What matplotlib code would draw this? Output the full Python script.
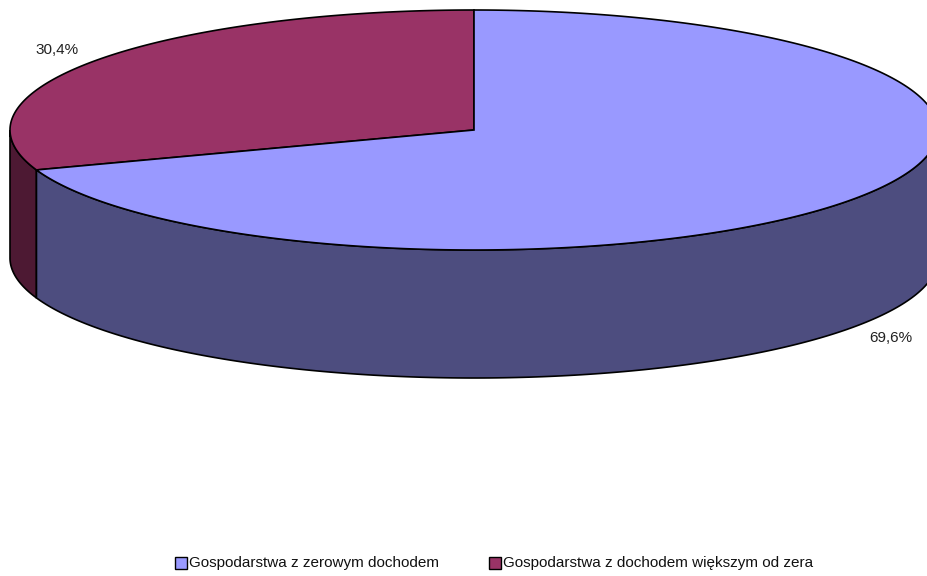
import numpy as np
import matplotlib.pyplot as plt
from matplotlib.patches import Polygon, Rectangle

labels = ["Gospodarstwa z zerowym dochodem", "Gospodarstwa z dochodem większym od zera"]
shares = [69.6, 30.4]
pct_text = ["69,6%", "30,4%"]
top_colors = ["#9999FF", "#993366"]
side_colors = ["#4D4D7F", "#4D1933"]

plt.rcParams['font.family'] = ['Liberation Sans Narrow', 'Liberation Sans', 'DejaVu Sans']

fig = plt.figure(figsize=(9.28, 5.76), dpi=100)
ax = fig.add_axes([0, 0, 1, 1])
ax.set_xlim(0, 928)
ax.set_ylim(576, 0)
ax.axis('off')

# geometria elipsy (piksele)
cx, cy = 474, 130
a, b = 464, 120
depth = 128


def pt(t, dy=0):
    return cx + a * np.cos(t), cy - b * np.sin(t) + dy


# kąty wycinków: start od góry, przeciwnie do ruchu wskazówek
start = np.pi / 2
bounds = []
acc = start
# najpierw fioletowy (idzie w lewo), potem niebieski
order = [1, 0]
for i in order:
    span = shares[i] / sum(shares) * 2 * np.pi
    bounds.append((i, acc, acc + span))
    acc += span

# ściany boczne (tylko przednia połowa: pi..2pi)
for i, t1, t2 in bounds:
    lo = max(t1, np.pi)
    hi = min(t2, 2 * np.pi)
    if lo >= hi:
        continue
    ts = np.linspace(lo, hi, 200)
    upper = [pt(t) for t in ts]
    lower = [pt(t, depth) for t in ts[::-1]]
    ax.add_patch(Polygon(upper + lower, closed=True, facecolor=side_colors[i],
                         edgecolor='black', linewidth=1.2, zorder=1))

# górne wycinki
for i, t1, t2 in bounds:
    ts = np.linspace(t1, t2, 300)
    verts = [(cx, cy)] + [pt(t) for t in ts]
    ax.add_patch(Polygon(verts, closed=True, facecolor=top_colors[i],
                         edgecolor='black', linewidth=1.2, zorder=2))

# etykiety procentowe
for i, t1, t2 in bounds:
    tm = (t1 + t2) / 2
    x = cx + 1.1 * a * np.cos(tm)
    y = cy - 1.15 * b * np.sin(tm)
    if np.sin(tm) < 0:
        y += depth
    ax.text(x, y, pct_text[i], ha='center', va='center', fontsize=11, color='#222222')

# legenda
leg_items = [(175, 0), (489, 1)]
for x0, i in leg_items:
    ax.add_patch(Rectangle((x0, 557), 12, 12, facecolor=top_colors[i],
                           edgecolor='black', linewidth=1))
    ax.text(x0 + 14, 563, labels[i], ha='left', va='center', fontsize=11, color='#111111')

fig.savefig("out.png", dpi=100)
